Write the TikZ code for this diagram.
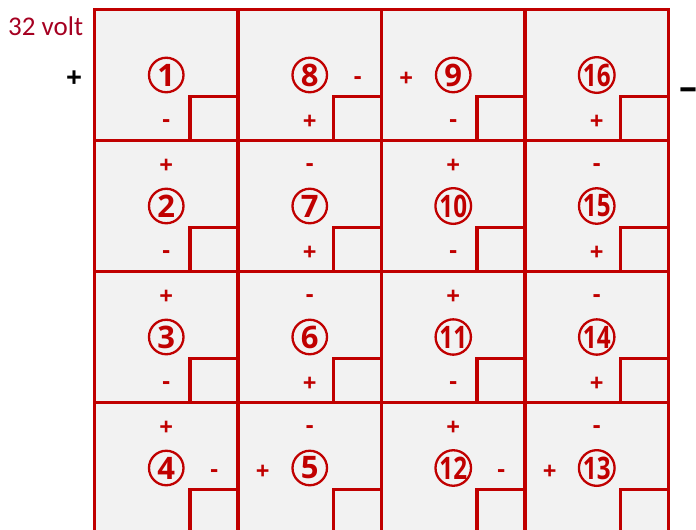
\documentclass[tikz,border=0pt]{standalone}
\usepackage{fontspec}
\setmainfont{Open Sans}
\newfontfamily\voltfont{Carlito}
\usetikzlibrary{calc}
\definecolor{cred}{HTML}{C00000}
\definecolor{vred}{HTML}{A50021}
\definecolor{cgrey}{HTML}{F2F2F2}
\tikzset{
  cellbox/.style={rectangle,draw=cred,fill=cgrey,line width=3.3pt,minimum width=143.5pt,minimum height=131pt,inner sep=0pt,outer sep=0pt},
  smallbox/.style={rectangle,draw=cred,line width=3.3pt,minimum width=48pt,minimum height=44pt,inner sep=0pt,outer sep=0pt,anchor=south east},
  numc/.style={circle,draw=cred,line width=2.3pt,minimum size=34.5pt,inner sep=0pt,text=cred,font=\bfseries\fontsize{31}{31}\selectfont},
  sgn/.style={anchor=base,inner sep=0pt,text=cred,font=\bfseries\fontsize{24}{24}\selectfont},
  pole/.style={anchor=base,inner sep=0pt,text=black,font=\bfseries\fontsize{28}{28}\selectfont}
}
\begin{document}
\begin{tikzpicture}[x=1pt,y=-1pt]
\useasboundingbox (0,0) rectangle (696,530);
\foreach \n/\r/\c in {1/0/0,8/0/1,9/0/2,16/0/3,2/1/0,7/1/1,10/1/2,15/1/3,3/2/0,6/2/1,11/2/2,14/2/3,4/3/0,5/3/1,12/3/2,13/3/3}{
  \pgfmathsetmacro\cx{94.5+143.5*\c+71.75}
  \pgfmathsetmacro\cy{9.5+131*\r+65.5}
  \node[cellbox] (cell\n) at (\cx,\cy) {};
  \node[smallbox] (sb\n) at (cell\n.south east) {};
  \node[numc] (n\n) at ($(cell\n.north)+(0,65.5)$) {\ifnum\n>9 \scalebox{0.78}[1]{\n}\else\n\fi};
}
\foreach \n/\dx/\dy/\s [count=\i] in {1/0/118/-,8/48/74.5/-,8/0/120/+,9/-47/76.5/+,9/0/118/-,16/0/120/+,
  2/0/33/+,2/0/118/-,7/0/31/-,7/0/120/+,10/0/33/+,10/0/118/-,15/0/31/-,15/0/120/+,
  3/0/33/+,3/0/118/-,6/0/31/-,6/0/120/+,11/0/33/+,11/0/118/-,14/0/31/-,14/0/120/+,
  4/0/33/+,4/48/74.5/-,5/0/31/-,5/-47/76.5/+,12/0/33/+,12/48/74.5/-,13/0/31/-,13/-47/76.5/+}{
  \node[sgn] (s\i) at ($(cell\n.north)+(\dx,\dy)$) {\s};
}
\node[anchor=base west,inner sep=0pt,text=vred,font=\voltfont\fontsize{27}{27}\selectfont] (volt) at (8,35) {32 volt};
\node[pole] (plus) at (74,87) {+};
\node[pole,anchor=base west,font=\bfseries\fontsize{36}{36}\selectfont] (minus) at (679,99.5) {–};
\end{tikzpicture}
\end{document}
